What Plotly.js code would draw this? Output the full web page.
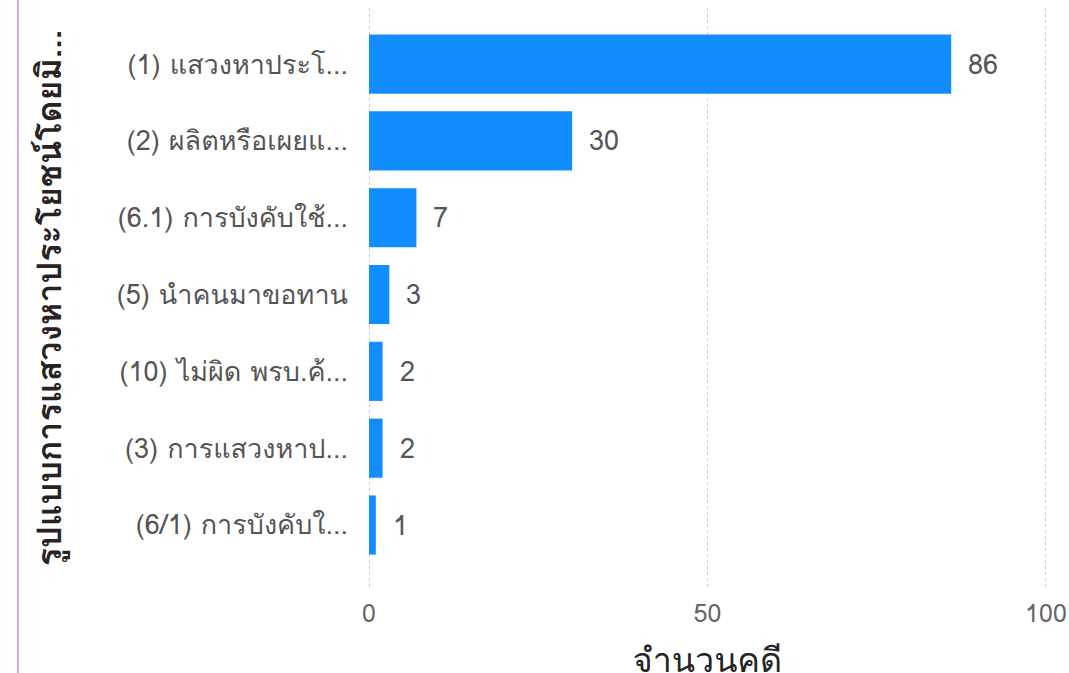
<!DOCTYPE html>
<html>
<head>
<meta charset="utf-8">
<script src="https://cdn.plot.ly/plotly-3.0.1.min.js"></script>
<style>
  html, body { margin: 0; padding: 0; background: #fff; overflow: hidden; width: 1069px; height: 673px; }
  #frame { position: absolute; left: 17px; top: 0; width: 2px; height: 673px; background: #e0a8e0; }
  #chart { position: absolute; left: 0; top: 0; width: 1069px; height: 690px; }
</style>
</head>
<body>
<div id="chart"></div>
<div id="frame"></div>
<script>
const categories = [
  "(1) แสวงหาประโ...",
  "(2) ผลิตหรือเผยแ...",
  "(6.1) การบังคับใช้...",
  "(5) นำคนมาขอทาน",
  "(10) ไม่ผิด พรบ.ค้...",
  "(3) การแสวงหาป...",
  "(6/1) การบังคับใ..."
];
const caseCounts = [86, 30, 7, 3, 2, 2, 1];
const xTickValues = [0, 50, 100];
const xTitle = "จำนวนคดี";
const yTitle = "รูปแบบการแสวงหาประโยชน์โดยมิ...";

const fontFamily = "'Segoe UI', 'Leelawadee UI', Tahoma, Loma, Garuda, 'Noto Sans', 'Open Sans', sans-serif";

const trace = {
  type: 'bar',
  orientation: 'h',
  x: caseCounts,
  y: categories,
  marker: { color: '#118DFF' },
  hoverinfo: 'x+y'
};

const annotations = caseCounts.map((v, i) => ({
  x: v, y: categories[i], xref: 'x', yref: 'y',
  text: String(v), showarrow: false, xanchor: 'left', xshift: 15,
  font: { family: fontFamily, size: 27, color: '#555' }
}));

const layout = {
  width: 1069, height: 690,
  margin: { l: 367, r: 21, t: 8, b: 102 },
  paper_bgcolor: '#fff', plot_bgcolor: '#fff',
  bargap: 0.23,
  showlegend: false,
  font: { family: fontFamily, color: '#555' },
  xaxis: {
    range: [-0.3, 100.3],
    tickvals: xTickValues,
    ticktext: xTickValues.map(String),
    showgrid: true, gridcolor: '#cccccc', griddash: 'dot', gridwidth: 1,
    zeroline: false, showline: false, ticks: '',
    ticklabelstandoff: 8,
    tickfont: { family: fontFamily, size: 25, color: '#666' },
    title: { text: xTitle, standoff: 13, font: { family: fontFamily, size: 34, color: '#252423' } }
  },
  yaxis: {
    type: 'category',
    range: [6.82, -0.73],
    showgrid: false, zeroline: false, showline: false, ticks: '',
    ticklabelstandoff: 18,
    tickfont: { family: fontFamily, size: 27, color: '#555' },
    title: { text: yTitle, standoff: 44, font: { family: fontFamily, size: 34, color: '#252423', weight: 600 } }
  },
  annotations: annotations
};

Plotly.newPlot('chart', [trace], layout, { displayModeBar: false });
</script>
</body>
</html>
